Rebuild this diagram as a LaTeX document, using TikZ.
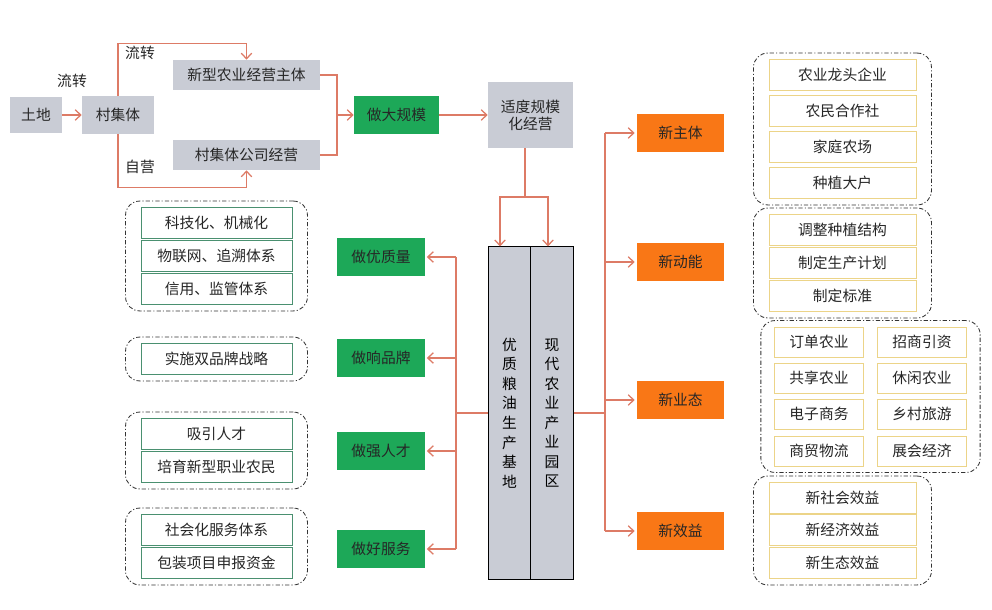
\documentclass[tikz,border=0pt]{standalone}
\usepackage{fontspec}
\setmainfont{Noto Sans CJK SC}
\usetikzlibrary{arrows.meta, positioning, calc, fit}
\definecolor{linkRed}{HTML}{DD7B66}
\definecolor{grayBox}{HTML}{C9CCD5}
\definecolor{greenBox}{HTML}{1DA858}
\definecolor{orangeBox}{HTML}{F97716}
\definecolor{tealLine}{HTML}{4A9070}
\definecolor{goldLine}{HTML}{ECD488}
\definecolor{textDark}{HTML}{262626}
\tikzset{
  arrowR/.style={-{Straight Barb[length=1.4mm, width=2.6mm]}, linkRed, line width=0.9pt},
  lineR/.style={linkRed, line width=0.9pt},
  boxGray/.style={rectangle, fill=grayBox, text=textDark, align=center,
                  inner sep=0pt, minimum height=0.925cm},
  boxGreen/.style={rectangle, fill=greenBox, text=textDark, align=center,
                   inner sep=0pt, minimum width=2.175cm, minimum height=0.95cm},
  boxOrange/.style={rectangle, fill=orangeBox, text=textDark, align=center,
                    inner sep=0pt, minimum width=2.175cm, minimum height=0.95cm},
  itemG/.style={rectangle, draw=tealLine, fill=white, text=textDark, line width=0.6pt,
                inner sep=0pt, minimum width=3.775cm, minimum height=0.775cm},
  itemY/.style={rectangle, draw=goldLine, fill=white, text=textDark, line width=0.6pt,
                inner sep=0pt, minimum width=3.675cm, minimum height=0.775cm},
  itemS/.style={itemY, minimum width=2.225cm, minimum height=0.75cm},
  groupD/.style={rectangle, draw=black!80, rounded corners=10pt, line width=0.6pt,
                 dash pattern=on 3pt off 1.5pt on 0.8pt off 1.5pt,
                 inner xsep=0.375cm, inner ysep=0.15cm},
  colV/.style={rectangle, draw=black, fill=grayBox, line width=0.7pt, align=center,
               inner sep=0pt, minimum width=1.06cm, minimum height=8.3cm,
               font=\fontsize{10.5}{13.9}\selectfont},
  tagT/.style={text=textDark, inner sep=1pt},
}
\begin{document}
\begin{tikzpicture}[x=0.025cm, y=-0.025cm, font=\fontsize{10.5}{12}\selectfont]
  \fill[white] (0,0) rectangle (992,610);
  \useasboundingbox (0,0) rectangle (992,610);

  % land transfer chain
  \node[boxGray, minimum width=1.3cm, minimum height=0.9cm] (tudi) at (36,115) {土地};
  \node[boxGray, minimum width=1.8cm] (cun) at (118,115) {村集体};
  \node[boxGray, minimum width=3.675cm, minimum height=0.75cm] (xinxing) at (246.5,75) {新型农业经营主体};
  \node[boxGray, minimum width=3.675cm, minimum height=0.75cm] (gongsi) at (246.5,155) {村集体公司经营};
  \node[boxGreen, minimum width=2.125cm, minimum height=0.925cm] (zuoda) at (396.5,115) {做大规模};
  \node[boxGray, minimum width=2.125cm, minimum height=1.65cm] (shidu) at (530.5,115) {适度规模\\化经营};

  \node[tagT] (t1) at (72,81) {流转};
  \node[tagT] (t2) at (140,53) {流转};
  \node[tagT] (t3) at (140,167) {自营};

  \draw[arrowR] (tudi) -- (cun);
  \draw[arrowR] (cun.north) -- ++(0,-53) -| (xinxing.north);
  \draw[arrowR] (cun.south) -- ++(0,54) -| (gongsi.south);
  \coordinate (merge) at (337,115);
  \draw[lineR] (xinxing.east) -| (merge) |- (gongsi.east);
  \draw[arrowR] (merge) -- (zuoda.west);
  \draw[arrowR] (zuoda) -- (shidu);

  % the two bases
  \node[colV] (colL) at (509.5,413) {优\\质\\粮\\油\\生\\产\\基\\地};
  \node[colV] (colR) at (552,413) {现\\代\\农\\业\\产\\业\\园\\区};
  \coordinate (split) at (525,197);
  \draw[lineR] (shidu.south -| split) -- (split);
  \draw[arrowR] (split) -| ($(colL.north)+(-9.5,0)$);
  \draw[arrowR] (split) -| ($(colR.north)+(-4,0)$);

  % left side
  \node[boxGreen] (zyou) at (381,257) {做优质量};
  \node[boxGreen] (zxiang) at (381,358) {做响品牌};
  \node[boxGreen] (zqiang) at (381,451) {做强人才};
  \node[boxGreen] (zhao) at (381,549) {做好服务};
  \coordinate (lbus) at (456,413);
  \draw[lineR] (colL.west |- lbus) -- (lbus);
  \draw[lineR] (lbus |- zyou.east) -- (lbus |- zhao.east);
  \foreach \n in {zyou, zxiang, zqiang, zhao}
    \draw[arrowR] (lbus |- \n.east) -- ($(\n.east)+(2,0)$);

  \foreach \t/\y/\n in {科技化、机械化/223/a1, 物联网、追溯体系/256/a2, 信用、监管体系/289/a3,
                        实施双品牌战略/359/b1, 吸引人才/434/c1, 培育新型职业农民/467/c2,
                        社会化服务体系/530/d1, 包装项目申报资金/563/d2}
    \node[itemG] (\n) at (216.5,\y) {\t};
  \node[groupD, fit=(a1)(a3)] (ga) {};
  \node[groupD, fit=(b1)] (gb) {};
  \node[groupD, fit=(c1)(c2)] (gc) {};
  \node[groupD, fit=(d1)(d2)] (gd) {};

  % right side
  \node[boxOrange] (xzhu) at (680.5,133) {新主体};
  \node[boxOrange] (xdong) at (680.5,262) {新动能};
  \node[boxOrange] (xtai) at (680.5,400) {新业态};
  \node[boxOrange] (xyi) at (680.5,531) {新效益};
  \coordinate (rbus) at (605,413);
  \draw[lineR] (colR.east |- rbus) -- (rbus);
  \draw[lineR] (rbus |- xzhu.west) -- (rbus |- xyi.west);
  \foreach \n in {xzhu, xdong, xtai, xyi}
    \draw[arrowR] (rbus |- \n.west) -- ($(\n.west)+(-2,0)$);

  \foreach \t/\y/\n in {农业龙头企业/75/e1, 农民合作社/111/e2, 家庭农场/147/e3, 种植大户/183/e4,
                        调整种植结构/230/f1, 制定生产计划/263/f2, 制定标准/296/f3,
                        新社会效益/498/h1, 新经济效益/530/h2, 新生态效益/563/h3}
    \node[itemY] (\n) at (842.5,\y) {\t};
  \foreach \t/\u/\y/\n in {订单农业/招商引资/342/1, 共享农业/休闲农业/378/2,
                           电子商务/乡村旅游/414/3, 商贸物流/展会经济/451/4}{
    \node[itemS] (gl\n) at (819,\y) {\t};
    \node[itemS] (gr\n) at (922,\y) {\u};
  }
  \node[groupD, fit=(e1)(e4)] (ge) {};
  \node[groupD, fit=(f1)(f3)] (gf) {};
  \node[groupD, fit=(gl1)(gr4), inner xsep=0.33cm] (gg) {};
  \node[groupD, fit=(h1)(h3)] (gh) {};
\end{tikzpicture}
\end{document}
